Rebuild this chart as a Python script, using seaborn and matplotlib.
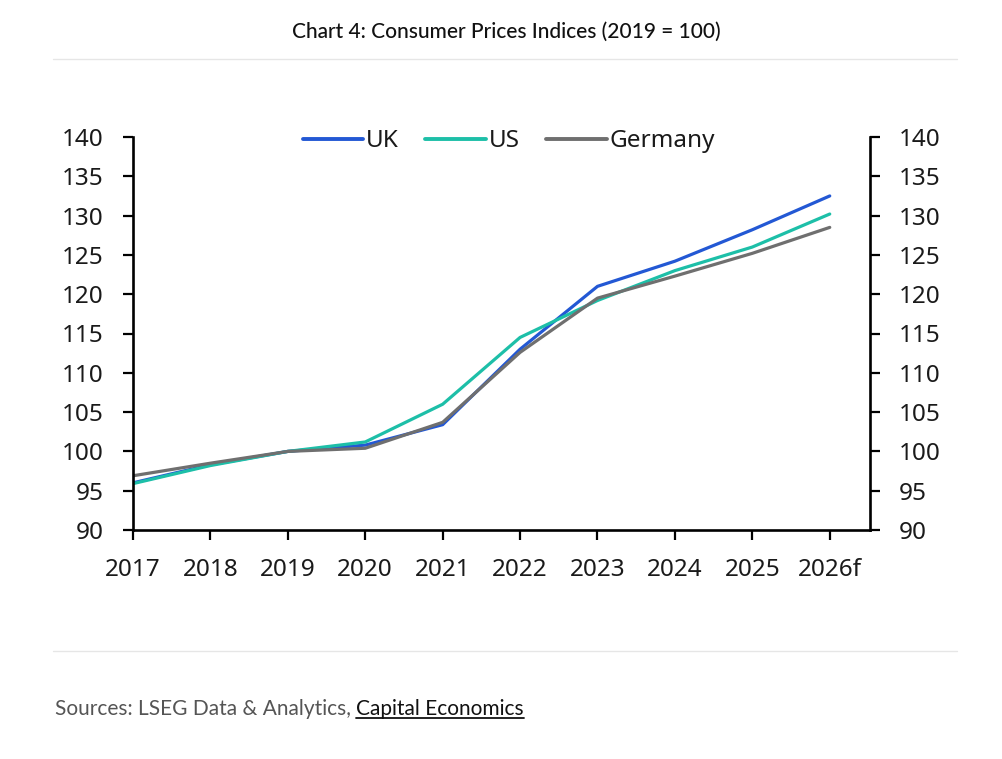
import matplotlib
matplotlib.use("Agg")
import matplotlib.pyplot as plt
from matplotlib.lines import Line2D
import seaborn as sns
import pandas as pd

years = ["2017", "2018", "2019", "2020", "2021", "2022", "2023", "2024", "2025", "2026f"]
uk = [96.0, 98.3, 100.0, 100.8, 103.4, 113.0, 121.0, 124.2, 128.2, 132.5]
us = [95.9, 98.2, 100.0, 101.2, 106.0, 114.5, 119.2, 123.0, 126.0, 130.2]
germany = [96.9, 98.5, 100.0, 100.4, 103.7, 112.6, 119.5, 122.3, 125.2, 128.5]
series = ["UK", "US", "Germany"]
colors = {"UK": "#2358d4", "US": "#1dbfa8", "Germany": "#6f6f6f"}

rows = []
for name, vals in zip(series, [uk, us, germany]):
    for i, v in enumerate(vals):
        rows.append({"pos": i, "value": v, "series": name})
df = pd.DataFrame(rows)

sns.set_theme(style="white")
plt.rcParams["font.family"] = ["Noto Sans", "DejaVu Sans"]

fig = plt.figure(figsize=(10.03, 7.59), dpi=100)
ax = fig.add_axes([133 / 1003, 229 / 759, 737 / 1003, 393 / 759])

sns.lineplot(data=df, x="pos", y="value", hue="series", hue_order=series,
             palette=colors, linewidth=2.3, ax=ax)

ax.set_xlim(0, 9.52)
ax.set_ylim(90, 140)
ax.set_yticks(range(90, 141, 5))
ax.set_xticks(range(len(years)))
ax.set_xticklabels(years)
ax.set_xlabel("")
ax.set_ylabel("")

for s in ["left", "right", "bottom"]:
    ax.spines[s].set_color("black")
    ax.spines[s].set_linewidth(1.9)
ax.spines["top"].set_visible(False)

ax.tick_params(axis="y", which="both", direction="out", length=7, width=1.6,
               labelsize=17.5, pad=14, left=True, right=True,
               labelleft=True, labelright=True, colors="black", labelcolor="#1a1a1a")
ax.tick_params(axis="x", direction="out", length=7, width=1.6, labelsize=17.5,
               pad=13, bottom=True, colors="black", labelcolor="#1a1a1a")

leg = ax.legend(loc="upper center", bbox_to_anchor=(0.51, 1.075), ncol=3,
                frameon=False, fontsize=17.5, handlelength=2.5,
                handletextpad=0.1, columnspacing=1.1)
for line in leg.get_lines():
    line.set_linewidth(2.8)
for t in leg.get_texts():
    t.set_color("#1a1a1a")

title_font = ["Lato", "DejaVu Sans"]
fig.text(506 / 1003, 1 - 32 / 759, "Chart 4: Consumer Prices Indices (2019 = 100)",
         ha="center", va="center", fontsize=15, color="#111111", family=title_font,
         fontweight="medium")

for yy in [59, 651]:
    fig.add_artist(Line2D([53 / 1003, 957 / 1003], [1 - yy / 759, 1 - yy / 759],
                          color="#e6e6e6", linewidth=1.0))

src = fig.text(55 / 1003, 1 - 709 / 759, "Sources: LSEG Data & Analytics, ",
               ha="left", va="center", fontsize=15, color="#555555", family=title_font)
fig.canvas.draw()
r = fig.canvas.get_renderer()
bb = src.get_window_extent(r)
link = fig.text(bb.x1 / 1003, 1 - 709 / 759, "Capital Economics", ha="left",
                va="center", fontsize=15, color="#111111", family=title_font)
bb2 = link.get_window_extent(r)
uy = (bb2.y0 + 1) / 759
fig.add_artist(Line2D([bb2.x0 / 1003, bb2.x1 / 1003], [uy, uy],
                      color="#111111", linewidth=1.3))

fig.savefig("out.png", dpi=100, facecolor="white")
